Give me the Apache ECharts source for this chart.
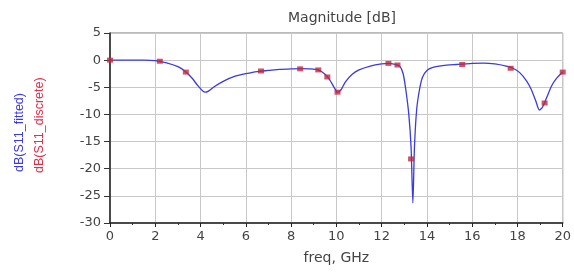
<!DOCTYPE html>
<html>
<head>
<meta charset="utf-8">
<script src="https://cdn.jsdelivr.net/npm/echarts@6/dist/echarts.min.js"></script>
<style>
html,body{margin:0;padding:0;background:#fff;}
#chart{width:574px;height:275px;}
</style>
</head>
<body>
<div id="chart"></div>
<script>
// Fitted curve (blue): frequency GHz, dB
const fittedFreq = [0,0.5,1,1.5,2,2.5,3,3.3,3.6,3.9,4.1,4.2,4.35,4.6,5,5.5,6,6.5,7,7.5,8,8.4,8.8,9.2,9.5,9.7,9.9,10.05,10.2,10.4,10.7,11,11.5,12,12.3,12.6,12.8,12.95,13.07,13.2,13.3,13.38,13.45,13.55,13.67,13.8,14.0,14.3,14.7,15.3,16,16.5,17,17.5,17.8,18.1,18.4,18.6,18.8,18.97,19.1,19.3,19.5,19.7,20];
const fittedDb =   [0,0,0,0,-0.1,-0.5,-1.2,-2.0,-3.2,-4.8,-5.7,-5.9,-5.7,-4.9,-3.9,-3.0,-2.5,-2.1,-1.9,-1.7,-1.6,-1.55,-1.6,-1.8,-2.6,-3.6,-5.0,-5.9,-5.5,-4.0,-2.6,-1.8,-1.1,-0.7,-0.6,-0.8,-1.1,-2.5,-5.5,-10,-16,-26.3,-16,-9,-5.5,-3.2,-1.9,-1.3,-1.0,-0.8,-0.6,-0.55,-0.7,-1.1,-1.5,-2.3,-3.8,-5.3,-7.4,-9.2,-8.7,-6.8,-4.8,-3.5,-2.2];
// Discrete samples (red markers)
const discreteFreq = [0,2.2,3.35,6.67,8.4,9.2,9.6,10.05,12.3,12.7,13.3,15.56,17.7,19.2,20];
const discreteDb =   [0,-0.2,-2.2,-2.0,-1.6,-1.8,-3.1,-5.9,-0.6,-0.9,-18.2,-0.8,-1.5,-7.9,-2.2];
const xTicks = {min:0, max:20, interval:2};
const yTicks = {min:-30, max:5, interval:5};

const fitted = fittedFreq.map((f,i)=>[f,fittedDb[i]]);
const discrete = discreteFreq.map((f,i)=>[f,discreteDb[i]]);

const chart = echarts.init(document.getElementById('chart'));
const font = 'DejaVu Sans';
chart.setOption({
  animation:false,
  backgroundColor:'#fff',
  title:{text:'Magnitude [dB]', left:337, top:6, textAlign:'center',
    textStyle:{fontFamily:font, fontSize:14, fontWeight:'normal', color:'#444'}},
  grid:{left:110, right:9, top:33, bottom:52, show:true, borderColor:'#777', borderWidth:1},
  xAxis:{type:'value', min:xTicks.min, max:xTicks.max, interval:xTicks.interval,
    name:'freq, GHz', nameLocation:'middle', nameGap:28,
    nameTextStyle:{fontFamily:font, fontSize:14, color:'#444'},
    axisLine:{show:true, onZero:false, lineStyle:{color:'#222', width:1.5}},
    axisTick:{show:true, length:4, lineStyle:{color:'#222'}},
    minorTick:{show:true, splitNumber:2, length:2, lineStyle:{color:'#333'}},
    axisLabel:{fontFamily:font, fontSize:13, color:'#444', margin:7},
    splitLine:{show:true, lineStyle:{color:'#c8c8c8', width:1}}
  },
  yAxis:{type:'value', min:yTicks.min, max:yTicks.max, interval:yTicks.interval,
    axisLine:{show:true, onZero:false, lineStyle:{color:'#222', width:1.5}},
    axisTick:{show:true, length:6, lineStyle:{color:'#333'}},
    axisLabel:{fontFamily:font, fontSize:13, color:'#444', margin:9},
    splitLine:{show:true, lineStyle:{color:'#c8c8c8', width:1}}
  },
  graphic:[
    {type:'text', x:20, y:172, rotation:Math.PI/2,
      style:{text:'dB(S11_fitted)', fill:'#3a3ae0', font:'12.5px "Liberation Sans"', align:'left', verticalAlign:'middle'}},
    {type:'text', x:40, y:173, rotation:Math.PI/2,
      style:{text:'dB(S11_discrete)', fill:'#e0304a', font:'12.5px "Liberation Sans"', align:'left', verticalAlign:'middle'}}
  ],
  series:[
    {type:'line', data:fitted, showSymbol:false, smooth:0.25, z:2,
      lineStyle:{color:'#3a3ae0', width:1.3}},
    {type:'scatter', data:discrete, symbol:'rect', symbolSize:[6,5], z:3,
      itemStyle:{color:'#c0283e'}}
  ]
});
</script>
</body>
</html>
